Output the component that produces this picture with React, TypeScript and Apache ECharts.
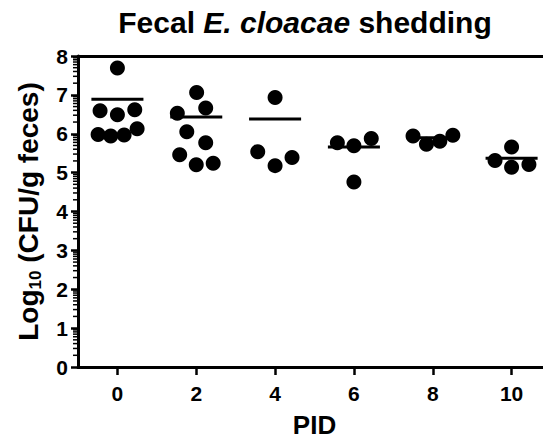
import React, { useEffect, useRef } from "react";
import * as echarts from "echarts";

// Post-infection day (PID) groups
const pids = [0, 2, 4, 6, 8, 10];
// log10 CFU/g feces per animal, per PID
const values0 = [7.69, 6.59, 6.49, 6.62, 5.98, 5.94, 5.97, 6.13];
const values2 = [6.53, 7.06, 6.66, 6.05, 5.77, 5.46, 5.2, 5.24];
const values4 = [6.93, 5.54, 5.18, 5.39];
const values6 = [5.77, 5.69, 5.88, 4.76];
const values8 = [5.94, 5.73, 5.81, 5.96];
const values10 = [5.66, 5.31, 5.14, 5.21];
// horizontal scatter (jitter) of each dot, in PID units
const jitter0 = [0, -0.44, 0, 0.44, -0.49, -0.17, 0.17, 0.5];
const jitter2 = [-0.48, 0.01, 0.24, -0.24, 0.24, -0.42, 0, 0.43];
const jitter4 = [0, -0.44, 0, 0.43];
const jitter6 = [-0.42, 0, 0.44, 0];
const jitter8 = [-0.5, -0.16, 0.18, 0.51];
const jitter10 = [0, -0.42, 0, 0.44];
// group mean line (log10 of mean CFU)
const means = [6.89, 6.43, 6.38, 5.66, 5.9, 5.37];
const yTicks = [0, 1, 2, 3, 4, 5, 6, 7, 8];

const groupValues = [values0, values2, values4, values6, values8, values10];
const groupJitter = [jitter0, jitter2, jitter4, jitter6, jitter8, jitter10];

export default function App() {
  const ref = useRef<HTMLDivElement>(null);
  useEffect(() => {
    if (!ref.current) return;
    const chart = echarts.init(ref.current, null, { renderer: "svg" });
    const points: number[][] = [];
    pids.forEach((p, i) => {
      groupValues[i].forEach((v, j) => points.push([p + groupJitter[i][j], v]));
    });
    const meanData = pids.map((p, i) => [p, means[i]]);
    const minorTicks: number[][] = [];
    for (let n = 0; n < 8; n++) {
      for (let k = 2; k <= 9; k++) minorTicks.push([-1, n + Math.log10(k)]);
    }
    const font = "Liberation Sans";
    chart.setOption({
      animation: false,
      backgroundColor: "#fff",
      title: {
        text: "{b|Fecal }{i|E. cloacae}{b| shedding}",
        left: 300,
        textAlign: "center",
        top: 2,
        textStyle: {
          rich: {
            b: { fontFamily: font, fontWeight: "bold", fontSize: 30, color: "#000" },
            i: { fontFamily: font, fontWeight: "bold", fontStyle: "italic", fontSize: 30, color: "#000" },
          },
        },
      },
      grid: { left: 78, top: 56, width: 476, height: 317.5, containLabel: false },
      xAxis: [
        {
          type: "value",
          min: -1,
          max: 11,
          name: "PID",
          nameLocation: "middle",
          nameGap: 45,
          nameTextStyle: { fontFamily: font, fontWeight: "bold", fontSize: 26, color: "#000" },
          axisLine: { show: true, onZero: false, lineStyle: { color: "#000", width: 3 } },
          axisTick: { show: true, customValues: pids, length: 8, lineStyle: { color: "#000", width: 2.5 } },
          axisLabel: {
            customValues: pids,
            margin: 16,
            fontFamily: font,
            fontWeight: "bold",
            fontSize: 21,
            color: "#000",
          },
          splitLine: { show: false },
        },
        {
          type: "value",
          position: "top",
          min: -1,
          max: 11,
          axisLine: { show: true, onZero: false, lineStyle: { color: "#000", width: 3 } },
          axisTick: { show: false },
          axisLabel: { show: false },
          splitLine: { show: false },
        },
      ],
      yAxis: {
        type: "value",
        min: 0,
        max: 8,
        interval: 1,
        name: "{m|Log}{s|10}{m| (CFU/g feces)}",
        nameLocation: "middle",
        nameRotate: 90,
        nameGap: 34,
        nameTextStyle: {
          rich: {
            m: { fontFamily: font, fontWeight: "bold", fontSize: 28, color: "#000", lineHeight: 32 },
            s: { fontFamily: font, fontWeight: "bold", fontSize: 17, color: "#000", lineHeight: 32, verticalAlign: "bottom", padding: [12, 0, 0, 0] },
          },
        },
        axisLine: { show: true, onZero: false, lineStyle: { color: "#000", width: 3 } },
        axisTick: { show: true, length: 7, lineStyle: { color: "#000", width: 2.5 } },
        axisLabel: {
          customValues: yTicks,
          margin: 10,
          fontFamily: font,
          fontWeight: "bold",
          fontSize: 21,
          color: "#000",
        },
        splitLine: { show: false },
      },
      series: [
        {
          type: "scatter",
          data: points,
          symbol: "circle",
          symbolSize: 15,
          itemStyle: { color: "#000", opacity: 1 },
          z: 3,
        },
        {
          type: "custom",
          data: meanData,
          clip: false,
          renderItem: (params: any, api: any) => {
            const x = api.value(0);
            const y = api.value(1);
            const a = api.coord([x - 0.66, y]);
            const b = api.coord([x + 0.66, y]);
            return {
              type: "line",
              shape: { x1: a[0], y1: a[1], x2: b[0], y2: b[1] },
              style: { stroke: "#000", lineWidth: 3 },
            };
          },
          z: 4,
        },
        {
          type: "custom",
          data: minorTicks,
          clip: false,
          silent: true,
          renderItem: (params: any, api: any) => {
            const p = api.coord([api.value(0), api.value(1)]);
            return {
              type: "line",
              shape: { x1: p[0] - 5, y1: p[1], x2: p[0], y2: p[1] },
              style: { stroke: "#000", lineWidth: 1.5 },
            };
          },
          z: 2,
        },
      ],
    });
    return () => chart.dispose();
  }, []);
  return <div ref={ref} style={{ width: 551, height: 443, margin: -8 }} />;
}
